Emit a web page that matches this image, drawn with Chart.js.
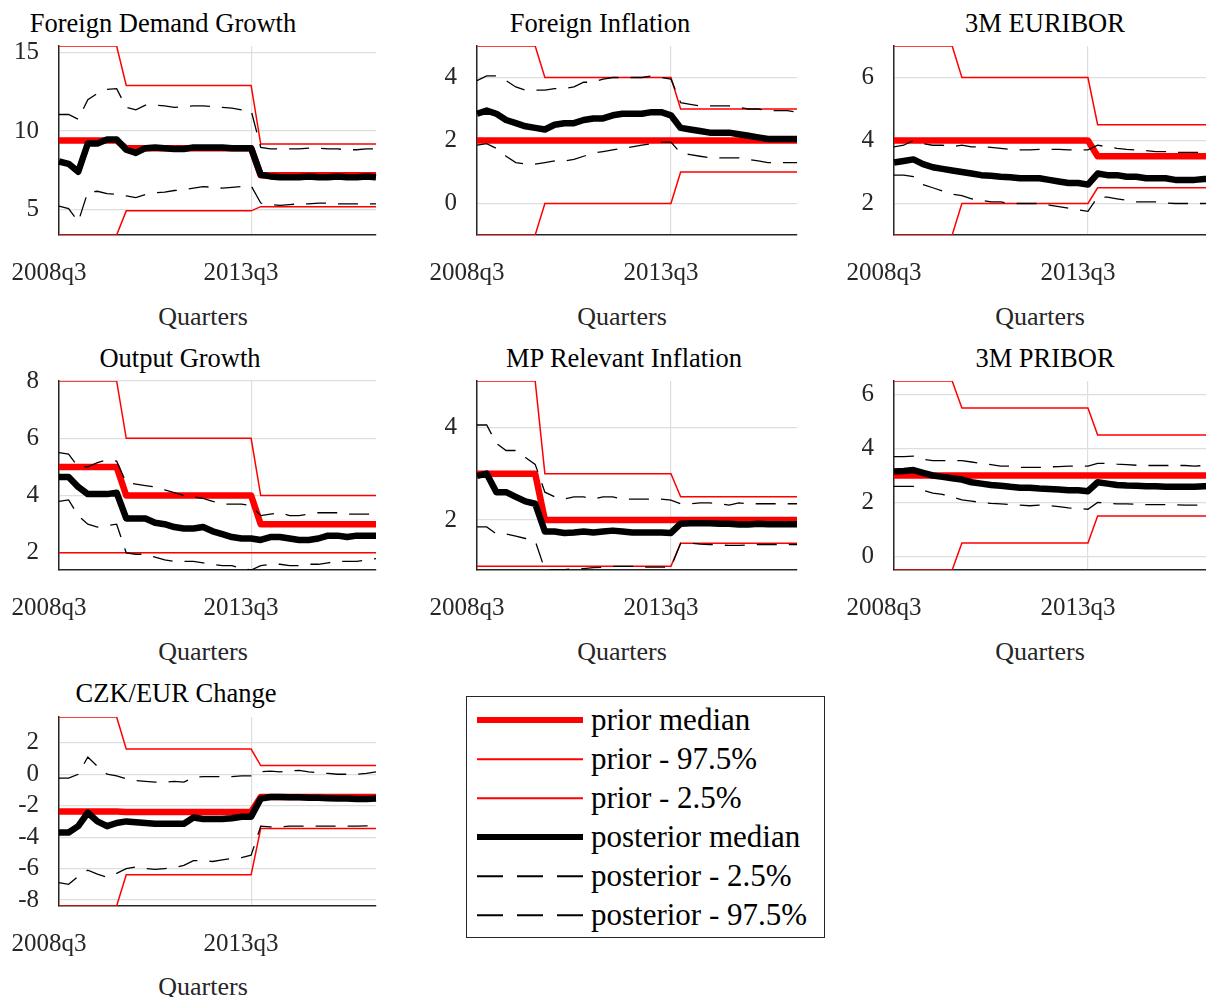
<!DOCTYPE html>
<html>
<head>
<meta charset="utf-8">
<script src="https://cdn.jsdelivr.net/npm/chart.js@4.4.1/dist/chart.umd.min.js"></script>
<style>
  html, body { margin: 0; padding: 0; background: #fff; overflow: hidden; }
  body { width: 1206px; height: 997px; position: relative; font-family: "Liberation Serif", "Times New Roman", serif; }
  .panel { position: absolute; }
  .lbl { position: absolute; transform: translate(-50%, -50%); white-space: nowrap; line-height: 1; }
  .ttl { font-size: 26.5px; color: #000; }
  .xt { font-size: 26px; color: #262626; }
  #legend { position: absolute; left: 466px; top: 696px; width: 357px; height: 240px; border: 1.5px solid #262626; background: #fff; }
  .row { position: absolute; left: 0; width: 100%; height: 40px; }
  .sample { position: absolute; left: 10px; width: 106px; top: 50%; transform: translateY(-50%); }
  .row span { position: absolute; left: 124px; top: 50%; transform: translateY(-52%); font-size: 31px; line-height: 1; color: #000; white-space: nowrap; }
</style>
</head>
<body>

<div class="lbl ttl" style="left:163px; top:23px">Foreign Demand Growth</div>
<div class="lbl ttl" style="left:600px; top:23px">Foreign Inflation</div>
<div class="lbl ttl" style="left:1045px; top:23px">3M EURIBOR</div>
<div class="lbl ttl" style="left:180px; top:358px">Output Growth</div>
<div class="lbl ttl" style="left:624px; top:358px">MP Relevant Inflation</div>
<div class="lbl ttl" style="left:1045px; top:358px">3M PRIBOR</div>
<div class="lbl ttl" style="left:176px; top:693px">CZK/EUR Change</div>

<div class="lbl xt" style="left:203px; top:317px">Quarters</div>
<div class="lbl xt" style="left:622px; top:317px">Quarters</div>
<div class="lbl xt" style="left:1040px; top:317px">Quarters</div>
<div class="lbl xt" style="left:203px; top:652px">Quarters</div>
<div class="lbl xt" style="left:622px; top:652px">Quarters</div>
<div class="lbl xt" style="left:1040px; top:652px">Quarters</div>
<div class="lbl xt" style="left:203px; top:987px">Quarters</div>

<div class="panel" id="p1"><canvas id="c1"></canvas></div>
<div class="panel" id="p2"><canvas id="c2"></canvas></div>
<div class="panel" id="p3"><canvas id="c3"></canvas></div>
<div class="panel" id="p4"><canvas id="c4"></canvas></div>
<div class="panel" id="p5"><canvas id="c5"></canvas></div>
<div class="panel" id="p6"><canvas id="c6"></canvas></div>
<div class="panel" id="p7"><canvas id="c7"></canvas></div>

<div id="legend">
  <div class="row" style="top:3px"><div class="sample" style="height:6px; background:#f00"></div><span>prior median</span></div>
  <div class="row" style="top:42px"><div class="sample" style="height:1.5px; background:#f00"></div><span>prior - 97.5%</span></div>
  <div class="row" style="top:81px"><div class="sample" style="height:1.5px; background:#f00"></div><span>prior - 2.5%</span></div>
  <div class="row" style="top:120px"><div class="sample" style="height:6px; background:#000"></div><span>posterior median</span></div>
  <div class="row" style="top:159px"><div class="sample" style="height:1.5px; background:repeating-linear-gradient(to right, #000 0 26px, transparent 26px 40px)"></div><span>posterior - 2.5%</span></div>
  <div class="row" style="top:198px"><div class="sample" style="height:1.5px; background:repeating-linear-gradient(to right, #000 0 26px, transparent 26px 40px)"></div><span>posterior - 97.5%</span></div>
</div>

<script>
// Quarters on the x axis
const quarters = [
  '2008q3', '2008q4',
  '2009q1', '2009q2', '2009q3', '2009q4',
  '2010q1', '2010q2', '2010q3', '2010q4',
  '2011q1', '2011q2', '2011q3', '2011q4',
  '2012q1', '2012q2', '2012q3', '2012q4',
  '2013q1', '2013q2', '2013q3', '2013q4',
  '2014q1', '2014q2', '2014q3', '2014q4',
  '2015q1', '2015q2', '2015q3', '2015q4',
  '2016q1', '2016q2', '2016q3', '2016q4'
];
const shownQuarters = ['2008q3', '2013q3'];

// Foreign Demand Growth
const fdgPriorMed = [9.39, 9.39, 9.39, 9.39, 9.39, 9.39, 9.39, 8.9, 8.9, 8.9, 8.9, 8.9, 8.9, 8.9, 8.9, 8.9, 8.9, 8.9, 8.9, 8.9, 8.9, 7.17, 7.17, 7.17, 7.17, 7.17, 7.17, 7.17, 7.17, 7.17, 7.17, 7.17, 7.17, 7.17];
const fdgPriorHi = [15.42, 15.42, 15.42, 15.42, 15.42, 15.42, 15.42, 12.9, 12.9, 12.9, 12.9, 12.9, 12.9, 12.9, 12.9, 12.9, 12.9, 12.9, 12.9, 12.9, 12.9, 9.16, 9.16, 9.16, 9.16, 9.16, 9.16, 9.16, 9.16, 9.16, 9.16, 9.16, 9.16, 9.16];
const fdgPriorLo = [3.36, 3.36, 3.36, 3.36, 3.36, 3.36, 3.36, 4.9, 4.9, 4.9, 4.9, 4.9, 4.9, 4.9, 4.9, 4.9, 4.9, 4.9, 4.9, 4.9, 4.9, 5.17, 5.17, 5.17, 5.17, 5.17, 5.17, 5.17, 5.17, 5.17, 5.17, 5.17, 5.17, 5.17];
const fdgPostMed = [8.05, 7.9, 7.4, 9.2, 9.2, 9.45, 9.45, 8.8, 8.6, 8.9, 8.95, 8.9, 8.85, 8.85, 8.95, 8.95, 8.95, 8.95, 8.9, 8.9, 8.9, 7.2, 7.1, 7.05, 7.05, 7.05, 7.1, 7.05, 7.05, 7.1, 7.05, 7.05, 7.1, 7.05];
const fdgPostLo = [5.2, 5.05, 4.2, 6.1, 6.15, 6.0, 5.95, 5.85, 5.75, 5.95, 6.05, 6.1, 6.2, 6.25, 6.35, 6.45, 6.4, 6.35, 6.4, 6.45, 6.5, 5.4, 5.3, 5.25, 5.3, 5.35, 5.35, 5.4, 5.4, 5.35, 5.35, 5.35, 5.35, 5.35];
const fdgPostHi = [11.05, 11.05, 10.75, 12.0, 12.4, 12.65, 12.7, 11.5, 11.35, 11.65, 11.65, 11.6, 11.5, 11.55, 11.6, 11.6, 11.55, 11.5, 11.45, 11.35, 11.3, 8.95, 8.85, 8.85, 8.85, 8.85, 8.9, 8.9, 8.85, 8.85, 8.8, 8.8, 8.85, 8.85];

// Foreign Inflation
const fiPriorMed = [2, 2, 2, 2, 2, 2, 2, 2, 2, 2, 2, 2, 2, 2, 2, 2, 2, 2, 2, 2, 2, 2, 2, 2, 2, 2, 2, 2, 2, 2, 2, 2, 2, 2];
const fiPriorHi = [5, 5, 5, 5, 5, 5, 5, 4, 4, 4, 4, 4, 4, 4, 4, 4, 4, 4, 4, 4, 4, 3, 3, 3, 3, 3, 3, 3, 3, 3, 3, 3, 3, 3];
const fiPriorLo = [-1, -1, -1, -1, -1, -1, -1, 0, 0, 0, 0, 0, 0, 0, 0, 0, 0, 0, 0, 0, 0, 1, 1, 1, 1, 1, 1, 1, 1, 1, 1, 1, 1, 1];
const fiPostMed = [2.85, 2.95, 2.85, 2.65, 2.55, 2.45, 2.4, 2.35, 2.5, 2.55, 2.55, 2.65, 2.7, 2.7, 2.8, 2.85, 2.85, 2.85, 2.9, 2.9, 2.8, 2.4, 2.35, 2.3, 2.25, 2.25, 2.25, 2.2, 2.15, 2.1, 2.05, 2.05, 2.05, 2.05];
const fiPostLo = [1.85, 1.9, 1.75, 1.5, 1.3, 1.25, 1.25, 1.3, 1.35, 1.35, 1.4, 1.5, 1.6, 1.65, 1.7, 1.75, 1.8, 1.85, 1.9, 1.95, 1.95, 1.6, 1.55, 1.5, 1.45, 1.45, 1.45, 1.45, 1.4, 1.35, 1.3, 1.3, 1.3, 1.3];
const fiPostHi = [3.9, 4.05, 4.05, 3.9, 3.7, 3.6, 3.6, 3.6, 3.65, 3.65, 3.7, 3.85, 3.85, 3.95, 4.0, 4.0, 4.0, 4.0, 4.05, 4.0, 3.95, 3.2, 3.15, 3.1, 3.1, 3.1, 3.1, 3.05, 3.0, 3.0, 2.95, 2.95, 2.95, 2.9];

// 3M EURIBOR
const eurPriorMed = [4, 4, 4, 4, 4, 4, 4, 4, 4, 4, 4, 4, 4, 4, 4, 4, 4, 4, 4, 4, 4, 3.5, 3.5, 3.5, 3.5, 3.5, 3.5, 3.5, 3.5, 3.5, 3.5, 3.5, 3.5, 3.5];
const eurPriorHi = [7, 7, 7, 7, 7, 7, 7, 6, 6, 6, 6, 6, 6, 6, 6, 6, 6, 6, 6, 6, 6, 4.5, 4.5, 4.5, 4.5, 4.5, 4.5, 4.5, 4.5, 4.5, 4.5, 4.5, 4.5, 4.5];
const eurPriorLo = [1, 1, 1, 1, 1, 1, 1, 2, 2, 2, 2, 2, 2, 2, 2, 2, 2, 2, 2, 2, 2, 2.5, 2.5, 2.5, 2.5, 2.5, 2.5, 2.5, 2.5, 2.5, 2.5, 2.5, 2.5, 2.5];
const eurPostMed = [3.3, 3.35, 3.4, 3.25, 3.15, 3.1, 3.05, 3.0, 2.95, 2.9, 2.88, 2.85, 2.83, 2.8, 2.8, 2.8, 2.75, 2.7, 2.65, 2.65, 2.6, 2.95, 2.9, 2.9, 2.85, 2.85, 2.8, 2.8, 2.8, 2.75, 2.75, 2.75, 2.78, 2.78];
const eurPostLo = [2.9, 2.9, 2.85, 2.6, 2.5, 2.4, 2.3, 2.25, 2.15, 2.1, 2.05, 2.05, 2.0, 2.0, 2.0, 2.0, 1.95, 1.9, 1.85, 1.8, 1.75, 2.2, 2.2, 2.15, 2.1, 2.05, 2.05, 2.05, 2.02, 2.0, 2.0, 2.0, 2.0, 2.0];
const eurPostHi = [3.8, 3.85, 4.0, 3.9, 3.85, 3.85, 3.8, 3.85, 3.8, 3.8, 3.78, 3.75, 3.72, 3.7, 3.7, 3.72, 3.72, 3.72, 3.7, 3.7, 3.7, 3.85, 3.8, 3.75, 3.72, 3.7, 3.68, 3.65, 3.65, 3.62, 3.62, 3.62, 3.62, 3.62];

// Output Growth
const ogPriorMed = [5, 5, 5, 5, 5, 5, 5, 4, 4, 4, 4, 4, 4, 4, 4, 4, 4, 4, 4, 4, 4, 3, 3, 3, 3, 3, 3, 3, 3, 3, 3, 3, 3, 3];
const ogPriorHi = [8, 8, 8, 8, 8, 8, 8, 6, 6, 6, 6, 6, 6, 6, 6, 6, 6, 6, 6, 6, 6, 4, 4, 4, 4, 4, 4, 4, 4, 4, 4, 4, 4, 4];
const ogPriorLo = [2, 2, 2, 2, 2, 2, 2, 2, 2, 2, 2, 2, 2, 2, 2, 2, 2, 2, 2, 2, 2, 2, 2, 2, 2, 2, 2, 2, 2, 2, 2, 2, 2, 2];
const ogPostMed = [4.65, 4.65, 4.3, 4.05, 4.05, 4.05, 4.1, 3.2, 3.2, 3.2, 3.05, 3.0, 2.9, 2.85, 2.85, 2.9, 2.75, 2.65, 2.55, 2.5, 2.5, 2.45, 2.55, 2.55, 2.5, 2.45, 2.45, 2.5, 2.6, 2.6, 2.55, 2.6, 2.6, 2.6];
const ogPostLo = [3.8, 3.85, 3.3, 3.0, 2.9, 2.95, 3.0, 2.0, 1.95, 1.95, 1.85, 1.75, 1.7, 1.7, 1.7, 1.65, 1.6, 1.55, 1.55, 1.45, 1.4, 1.55, 1.6, 1.6, 1.55, 1.55, 1.6, 1.6, 1.65, 1.7, 1.7, 1.7, 1.75, 1.8];
const ogPostHi = [5.5, 5.45, 5.0, 5.0, 5.15, 5.25, 5.2, 4.45, 4.4, 4.35, 4.3, 4.2, 4.1, 4.0, 3.95, 3.9, 3.8, 3.7, 3.7, 3.7, 3.65, 3.3, 3.35, 3.4, 3.3, 3.3, 3.35, 3.4, 3.4, 3.4, 3.35, 3.35, 3.35, 3.35];

// MP Relevant Inflation
const mpPriorMed = [3, 3, 3, 3, 3, 3, 3, 2, 2, 2, 2, 2, 2, 2, 2, 2, 2, 2, 2, 2, 2, 2, 2, 2, 2, 2, 2, 2, 2, 2, 2, 2, 2, 2];
const mpPriorHi = [5, 5, 5, 5, 5, 5, 5, 3, 3, 3, 3, 3, 3, 3, 3, 3, 3, 3, 3, 3, 3, 2.5, 2.5, 2.5, 2.5, 2.5, 2.5, 2.5, 2.5, 2.5, 2.5, 2.5, 2.5, 2.5];
const mpPriorLo = [1, 1, 1, 1, 1, 1, 1, 1, 1, 1, 1, 1, 1, 1, 1, 1, 1, 1, 1, 1, 1, 1.5, 1.5, 1.5, 1.5, 1.5, 1.5, 1.5, 1.5, 1.5, 1.5, 1.5, 1.5, 1.5];
const mpPostMed = [2.95, 3.0, 2.6, 2.6, 2.5, 2.4, 2.35, 1.75, 1.75, 1.72, 1.73, 1.75, 1.73, 1.75, 1.77, 1.75, 1.73, 1.73, 1.73, 1.73, 1.72, 1.92, 1.93, 1.93, 1.93, 1.92, 1.92, 1.9, 1.9, 1.92, 1.91, 1.91, 1.91, 1.91];
const mpPostLo = [1.85, 1.85, 1.7, 1.7, 1.65, 1.6, 1.55, 0.93, 0.93, 0.93, 0.95, 0.95, 0.97, 0.98, 1.0, 1.0, 1.0, 0.98, 0.98, 0.98, 0.98, 1.5, 1.5, 1.48, 1.47, 1.46, 1.45, 1.45, 1.46, 1.47, 1.47, 1.47, 1.47, 1.47];
const mpPostHi = [4.05, 4.05, 3.65, 3.5, 3.5, 3.35, 3.2, 2.6, 2.5, 2.45, 2.5, 2.5, 2.45, 2.5, 2.5, 2.45, 2.45, 2.45, 2.45, 2.45, 2.43, 2.35, 2.35, 2.37, 2.37, 2.35, 2.32, 2.37, 2.35, 2.35, 2.35, 2.35, 2.35, 2.35];

// 3M PRIBOR
const priPriorMed = [3, 3, 3, 3, 3, 3, 3, 3, 3, 3, 3, 3, 3, 3, 3, 3, 3, 3, 3, 3, 3, 3, 3, 3, 3, 3, 3, 3, 3, 3, 3, 3, 3, 3];
const priPriorHi = [6.5, 6.5, 6.5, 6.5, 6.5, 6.5, 6.5, 5.5, 5.5, 5.5, 5.5, 5.5, 5.5, 5.5, 5.5, 5.5, 5.5, 5.5, 5.5, 5.5, 5.5, 4.5, 4.5, 4.5, 4.5, 4.5, 4.5, 4.5, 4.5, 4.5, 4.5, 4.5, 4.5, 4.5];
const priPriorLo = [-0.5, -0.5, -0.5, -0.5, -0.5, -0.5, -0.5, 0.5, 0.5, 0.5, 0.5, 0.5, 0.5, 0.5, 0.5, 0.5, 0.5, 0.5, 0.5, 0.5, 0.5, 1.5, 1.5, 1.5, 1.5, 1.5, 1.5, 1.5, 1.5, 1.5, 1.5, 1.5, 1.5, 1.5];
const priPostMed = [3.15, 3.17, 3.2, 3.1, 3.0, 2.95, 2.9, 2.85, 2.75, 2.7, 2.65, 2.62, 2.58, 2.55, 2.55, 2.52, 2.5, 2.48, 2.45, 2.45, 2.42, 2.75, 2.7, 2.65, 2.63, 2.62, 2.6, 2.6, 2.58, 2.58, 2.58, 2.58, 2.6, 2.6];
const priPostLo = [2.6, 2.6, 2.6, 2.45, 2.35, 2.3, 2.2, 2.1, 2.05, 2.0, 1.97, 1.95, 1.92, 1.9, 1.88, 1.9, 1.88, 1.85, 1.8, 1.78, 1.75, 2.0, 1.98, 1.95, 1.95, 1.93, 1.92, 1.92, 1.92, 1.92, 1.9, 1.9, 1.9, 1.9];
const priPostHi = [3.7, 3.7, 3.72, 3.6, 3.55, 3.55, 3.55, 3.55, 3.5, 3.45, 3.4, 3.35, 3.35, 3.3, 3.3, 3.3, 3.32, 3.33, 3.35, 3.35, 3.35, 3.45, 3.45, 3.42, 3.4, 3.38, 3.37, 3.37, 3.37, 3.37, 3.37, 3.35, 3.37, 3.38];

// CZK/EUR Change
const czkPriorMed = [-2.37, -2.37, -2.37, -2.37, -2.37, -2.37, -2.37, -2.4, -2.4, -2.4, -2.4, -2.4, -2.4, -2.4, -2.4, -2.4, -2.4, -2.4, -2.4, -2.4, -2.4, -1.45, -1.45, -1.45, -1.45, -1.45, -1.45, -1.45, -1.45, -1.45, -1.45, -1.45, -1.45, -1.45];
const czkPriorHi = [3.64, 3.64, 3.64, 3.64, 3.64, 3.64, 3.64, 1.6, 1.6, 1.6, 1.6, 1.6, 1.6, 1.6, 1.6, 1.6, 1.6, 1.6, 1.6, 1.6, 1.6, 0.55, 0.55, 0.55, 0.55, 0.55, 0.55, 0.55, 0.55, 0.55, 0.55, 0.55, 0.55, 0.55];
const czkPriorLo = [-8.38, -8.38, -8.38, -8.38, -8.38, -8.38, -8.38, -6.4, -6.4, -6.4, -6.4, -6.4, -6.4, -6.4, -6.4, -6.4, -6.4, -6.4, -6.4, -6.4, -6.4, -3.45, -3.45, -3.45, -3.45, -3.45, -3.45, -3.45, -3.45, -3.45, -3.45, -3.45, -3.45, -3.45];
const czkPostMed = [-3.7, -3.7, -3.3, -2.45, -3.0, -3.3, -3.1, -3.0, -3.05, -3.1, -3.15, -3.15, -3.15, -3.15, -2.75, -2.85, -2.85, -2.85, -2.8, -2.7, -2.7, -1.55, -1.45, -1.45, -1.47, -1.47, -1.5, -1.5, -1.52, -1.55, -1.55, -1.58, -1.58, -1.55];
const czkPostLo = [-6.9, -7.0, -6.5, -6.1, -6.35, -6.55, -6.3, -6.0, -5.9, -6.0, -6.05, -6.0, -5.95, -5.8, -5.5, -5.5, -5.55, -5.45, -5.35, -5.3, -5.15, -3.3, -3.35, -3.35, -3.3, -3.3, -3.3, -3.3, -3.3, -3.3, -3.3, -3.3, -3.28, -3.28];
const czkPostHi = [-0.25, -0.25, 0.0, 1.1, 0.5, 0.0, -0.1, -0.3, -0.4, -0.45, -0.5, -0.5, -0.45, -0.5, -0.2, -0.15, -0.15, -0.15, -0.15, -0.1, -0.1, 0.15, 0.2, 0.15, 0.2, 0.25, 0.15, 0.1, 0.05, 0.0, 0.0, 0.0, 0.05, 0.15];

// y axis ranges and tick values per panel
const fdgRange = [3.36, 15.42], fdgTicks = [5, 10, 15];
const fiRange = [-1, 5], fiTicks = [0, 2, 4];
const eurRange = [1, 7], eurTicks = [2, 4, 6];
const ogRange = [1.4, 8], ogTicks = [2, 4, 6, 8];
const mpRange = [0.92, 5], mpTicks = [2, 4];
const priRange = [-0.5, 6.5], priTicks = [0, 2, 4, 6];
const czkRange = [-8.38, 3.64], czkTicks = [-8, -6, -4, -2, 0, 2];

const AXIS_W = 58;   // room for y tick labels
const X_AXIS_H = 50; // room for x tick labels
const PAD_T = 16, PAD_R = 8;
const tickFont = { family: '"Liberation Serif", "Times New Roman", serif', size: 25 };

function makePanel(n, left, top, width, height, range, yTicks, s) {
    const box = document.getElementById('p' + n);
    box.style.left = (left - AXIS_W) + 'px';
    box.style.top = (top - PAD_T) + 'px';
    box.style.width = (AXIS_W + width + PAD_R) + 'px';
    box.style.height = (PAD_T + height + X_AXIS_H) + 'px';

    const ctx = document.getElementById('c' + n).getContext('2d');
    new Chart(ctx, {
        type: 'line',
        data: {
            labels: quarters,
            datasets: [
                { label: 'prior median', data: s[0], borderColor: '#ff0000', borderWidth: 6.5, order: 3, borderJoinStyle: 'round' },
                { label: 'prior - 97.5%', data: s[1], borderColor: '#ff0000', borderWidth: 1.5, order: 2 },
                { label: 'prior - 2.5%', data: s[2], borderColor: '#ff0000', borderWidth: 1.5, order: 2 },
                { label: 'posterior median', data: s[3], borderColor: '#000000', borderWidth: 6.5, order: 0, borderJoinStyle: 'round' },
                { label: 'posterior - 2.5%', data: s[4], borderColor: '#000000', borderWidth: 1.3, borderDash: [20, 12], order: 1 },
                { label: 'posterior - 97.5%', data: s[5], borderColor: '#000000', borderWidth: 1.3, borderDash: [20, 12], order: 1 }
            ]
        },
        options: {
            responsive: true,
            maintainAspectRatio: false,
            animation: false,
            layout: { padding: { top: PAD_T, right: PAD_R, left: 0, bottom: 0 } },
            elements: { point: { radius: 0 }, line: { tension: 0, fill: false } },
            plugins: { legend: { display: false }, tooltip: { enabled: false }, title: { display: false } },
            scales: {
                x: {
                    type: 'category',
                    offset: false,
                    afterBuildTicks: sc => { sc.ticks = sc.ticks.filter(t => shownQuarters.includes(quarters[t.value])); },
                    afterFit: sc => { sc.height = X_AXIS_H; sc.paddingLeft = 0; sc.paddingRight = 0; },
                    grid: { color: '#dedede', lineWidth: 1.2, drawTicks: false },
                    border: { color: '#262626', width: 1.5 },
                    ticks: {
                        autoSkip: false, maxRotation: 0, padding: 23, labelOffset: -10,
                        color: '#262626', font: tickFont
                    }
                },
                y: {
                    type: 'linear',
                    min: range[0],
                    max: range[1],
                    afterBuildTicks: sc => { sc.ticks = yTicks.map(v => ({ value: v })); },
                    afterFit: sc => { sc.width = AXIS_W; sc.paddingTop = 0; sc.paddingBottom = 0; },
                    grid: { color: '#dedede', lineWidth: 1.2, drawTicks: false },
                    border: { color: '#262626', width: 1.5 },
                    ticks: {
                        padding: 20,
                        color: '#262626', font: tickFont,
                        callback: v => String(v)
                    }
                }
            }
        }
    });
}

makePanel(1, 59, 46, 317, 189, fdgRange, fdgTicks, [fdgPriorMed, fdgPriorHi, fdgPriorLo, fdgPostMed, fdgPostLo, fdgPostHi]);
makePanel(2, 477, 46, 320, 189, fiRange, fiTicks, [fiPriorMed, fiPriorHi, fiPriorLo, fiPostMed, fiPostLo, fiPostHi]);
makePanel(3, 894, 46, 320, 189, eurRange, eurTicks, [eurPriorMed, eurPriorHi, eurPriorLo, eurPostMed, eurPostLo, eurPostHi]);
makePanel(4, 59, 381, 317, 189, ogRange, ogTicks, [ogPriorMed, ogPriorHi, ogPriorLo, ogPostMed, ogPostLo, ogPostHi]);
makePanel(5, 477, 381, 320, 189, mpRange, mpTicks, [mpPriorMed, mpPriorHi, mpPriorLo, mpPostMed, mpPostLo, mpPostHi]);
makePanel(6, 894, 381, 320, 189, priRange, priTicks, [priPriorMed, priPriorHi, priPriorLo, priPostMed, priPostLo, priPostHi]);
makePanel(7, 59, 717, 317, 189, czkRange, czkTicks, [czkPriorMed, czkPriorHi, czkPriorLo, czkPostMed, czkPostLo, czkPostHi]);
</script>
</body>
</html>
